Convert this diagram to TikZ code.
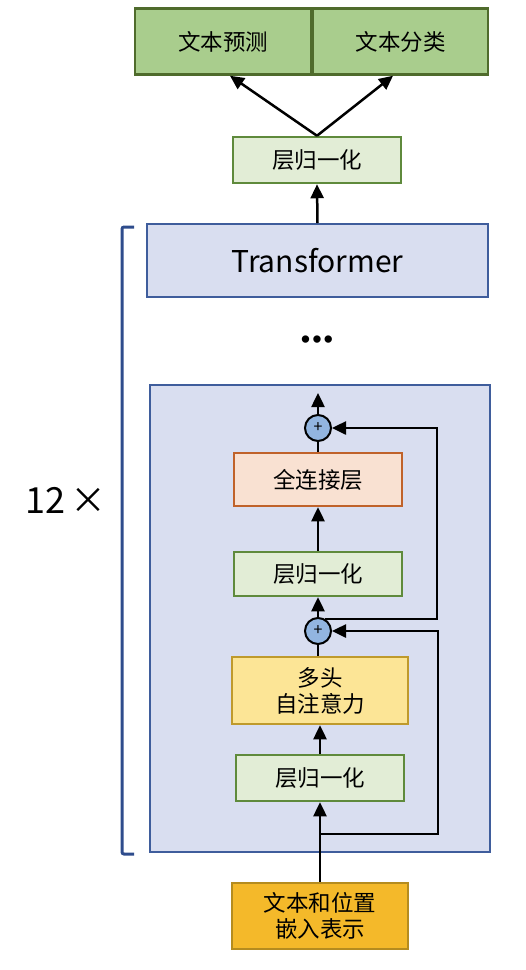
\documentclass[tikz,border=0pt]{standalone}
\usepackage{fontspec}
\setmainfont{Noto Sans CJK SC}
\newfontfamily\libsans{Liberation Sans}
\usetikzlibrary{arrows.meta,calc}
\definecolor{greenF}{HTML}{A9CD8D}
\definecolor{greenD}{HTML}{4F6B2C}
\definecolor{normF}{HTML}{E2EDD6}
\definecolor{normD}{HTML}{5F8A3C}
\definecolor{blueF}{HTML}{D9DEF0}
\definecolor{blueD}{HTML}{3F5D9C}
\definecolor{circF}{HTML}{92B5E0}
\definecolor{fcF}{HTML}{F9E1D2}
\definecolor{fcD}{HTML}{C0622A}
\definecolor{attF}{HTML}{FCE596}
\definecolor{attD}{HTML}{BF9A2C}
\definecolor{inF}{HTML}{F4B92A}
\definecolor{inD}{HTML}{B58C1F}
\definecolor{brk}{HTML}{2E4C8C}
\tikzset{
  base/.style={draw, line width=2.5pt, inner sep=0pt, align=center, font=\fontsize{22.5}{26}\selectfont},
  outbox/.style={base, fill=greenF, draw=greenD},
  normbox/.style={base, fill=normF, draw=normD},
  tfbox/.style={base, fill=blueF, draw=blueD, line width=2pt},
  fcbox/.style={base, fill=fcF, draw=fcD},
  attbox/.style={base, fill=attF, draw=attD},
  inbox/.style={base, fill=inF, draw=inD},
  plus/.style={circle, draw=black, fill=circF, line width=2pt, minimum size=26pt, inner sep=0pt, font=\fontsize{16}{16}\selectfont},
  arr/.style={line width=2.5pt, -{Triangle[length=14pt,width=13pt]}},
  ln/.style={line width=2.5pt},
}
\begin{document}
\begin{tikzpicture}[x=1pt,y=-1pt]
\useasboundingbox (0,0) rectangle (526,970);
% big encoder block
\node[tfbox, minimum width=340pt, minimum height=467pt] (big) at (320,618.5) {};
% top outputs
\node[outbox, minimum width=176pt, minimum height=66pt] (pred) at (223,41.5) {文本预测};
\node[outbox, minimum width=175pt, minimum height=66pt] (cls) at (400.5,41.5) {文本分类};
\node[normbox, minimum width=168pt, minimum height=46pt] (normT) at (317,160) {层归一化};
\node[tfbox, minimum width=341pt, minimum height=73pt, font=\fontsize{30}{36}\selectfont] (trans) at (317.5,260.5) {Transformer};
\node[font=\libsans\fontsize{27}{27}\selectfont, inner sep=0pt] (dots) at (317,342) {•\kern2pt•\kern2pt•};
% inner block
\coordinate (out) at (318,393);
\node[plus] (c2) at (318,428) {+};
\node[fcbox, minimum width=168pt, minimum height=53pt] (fc) at (318,479.5) {全连接层};
\node[normbox, minimum width=168pt, minimum height=44pt] (n2) at (318,574) {层归一化};
\node[plus] (c1) at (318,631) {+};
\node[attbox, minimum width=176pt, minimum height=67pt] (att) at (320,690.5) {多头\\自注意力};
\node[normbox, minimum width=168pt, minimum height=46pt] (n1) at (320,778) {层归一化};
\node[inbox, minimum width=176pt, minimum height=66pt] (in) at (320,916) {文本和位置\\嵌入表示};
\coordinate (br) at (320,834);
\coordinate (r1) at (437,0);
\coordinate (r2) at (438,0);
% connectors
\draw[arr] (normT.north) -- ($(pred.south)+(7,0)$);
\draw[arr] (normT.north) -- ($(cls.south)+(-7.5,0)$);
\draw[arr] (trans.north) -- (normT.south);
\draw[arr] (c2.north) -- (out);
\draw[ln] (fc.north) -- (c2.south);
\draw[arr] (n2.north) -- (fc.south);
\draw[arr] (c1.north) -- (n2.south);
\draw[ln] (att.north -| c1) -- (c1.south);
\draw[arr] (n1.north) -- (att.south -| n1);
\draw[arr] (in.north) -- (n1.south);
\draw[arr] (c1.60) -| (r1 |- c2.east) -- (c2.east);
\draw[arr] (br) -| (r2 |- c1.east) -- (c1.east);
% bracket
\draw[brk, line width=3pt, rounded corners=2pt] (134,227) -- (122,227) -- (122,854) -- (134,854);
\node[font=\fontsize{36}{36}\selectfont] (rep) at (66,500) {12\,×};
\end{tikzpicture}
\end{document}
